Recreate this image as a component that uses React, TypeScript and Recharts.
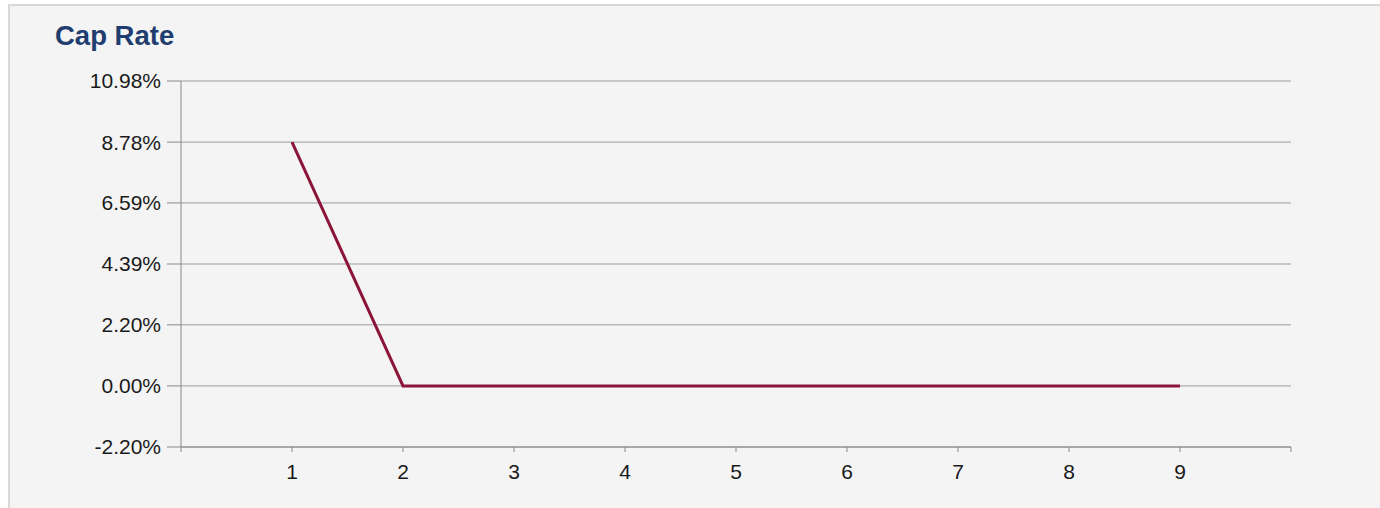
import React from 'react';
import { LineChart, Line, XAxis, YAxis, CartesianGrid } from 'recharts';

const years = [1, 2, 3, 4, 5, 6, 7, 8, 9];
const capRate = [8.78, 0, 0, 0, 0, 0, 0, 0, 0];
const yTicks = [-2.2, 0, 2.2, 4.39, 6.59, 8.78, 10.98];
const xTicks = [0, 1, 2, 3, 4, 5, 6, 7, 8, 9, 10];

const data = years.map((x, i) => ({ x, rate: capRate[i] }));

const FONT = '"Liberation Sans", Arial, sans-serif';
const AXIS = '#888';

export default function App() {
  return (
    <div style={{ position: 'fixed', left: 0, top: 0, width: 1380, height: 508, overflow: 'hidden', background: '#fff', fontFamily: FONT }}>
      <style>{'body{margin:0}'}</style>
      {/* panel box, runs past the window on the right and bottom */}
      <div
        style={{
          position: 'absolute',
          left: 8,
          top: 4,
          width: 1400,
          height: 540,
          background: '#f4f4f4',
          borderTop: '2px solid #d9d9d9',
          borderLeft: '2px solid #d9d9d9',
        }}
      />
      <div
        style={{
          position: 'absolute',
          left: 55,
          top: 18,
          fontSize: 27.5,
          fontWeight: 'bold',
          color: '#1f3d6e',
          lineHeight: '36px',
        }}
      >
        Cap Rate
      </div>
      <div style={{ position: 'absolute', left: 0, top: 0 }}>
        <LineChart width={1380} height={508} data={data} margin={{ top: 81, right: 89, bottom: 31, left: 0 }}>
          <CartesianGrid vertical={false} stroke="#9c9c9c" />
          <XAxis
            type="number"
            dataKey="x"
            domain={[0, 10]}
            ticks={xTicks}
            interval={0}
            tickFormatter={(v: number) => (v === 0 || v === 10 ? '' : String(v))}
            tickSize={5}
            tickMargin={12}
            height={30}
            axisLine={{ stroke: AXIS }}
            tickLine={{ stroke: AXIS }}
            tick={{ fill: '#1a1a1a', fontSize: 21, fontFamily: FONT }}
          />
          <YAxis
            type="number"
            domain={[-2.2, 10.98]}
            ticks={yTicks}
            interval={0}
            width={181}
            tickSize={14}
            tickMargin={6}
            tickFormatter={(v: number) => v.toFixed(2) + '%'}
            axisLine={{ stroke: AXIS }}
            tickLine={{ stroke: AXIS }}
            tick={{ fill: '#1a1a1a', fontSize: 21, fontFamily: FONT }}
          />
          <Line
            type="linear"
            dataKey="rate"
            stroke="#8b1538"
            strokeWidth={3}
            dot={false}
            activeDot={false}
            isAnimationActive={false}
          />
        </LineChart>
      </div>
    </div>
  );
}
